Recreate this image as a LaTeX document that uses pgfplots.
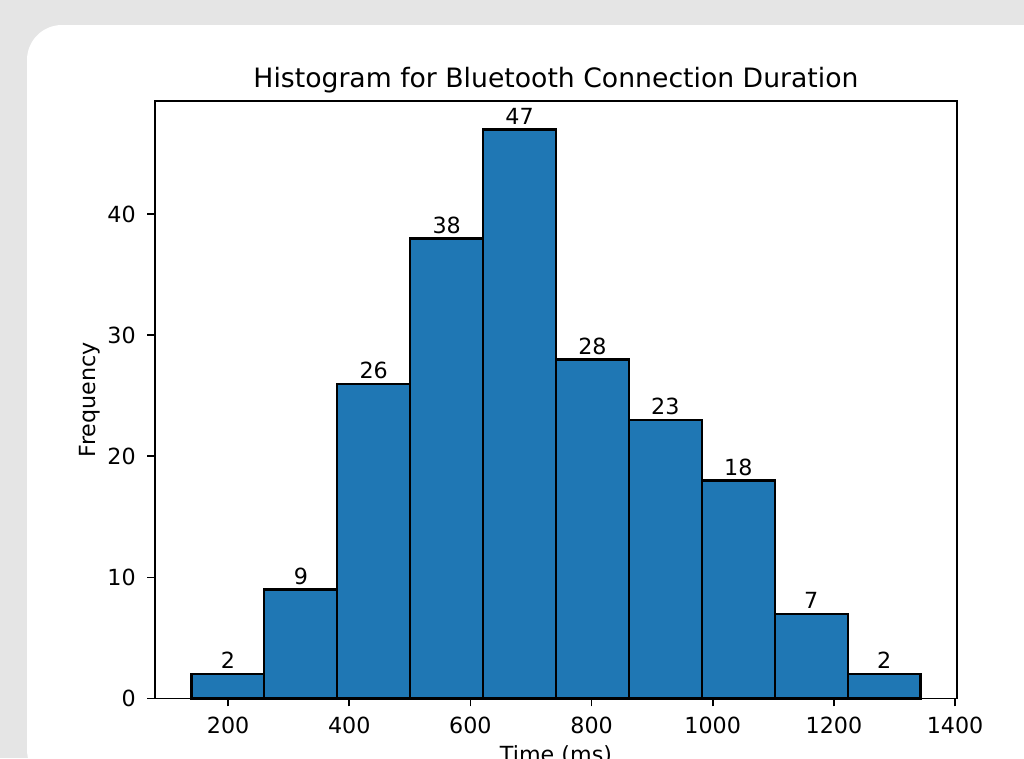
\documentclass[border=0pt]{standalone}
\usepackage{fontspec}
\setmainfont{DejaVu Sans}
\usepackage{pgfplots}
\pgfplotsset{compat=1.18}
\definecolor{pagegray}{HTML}{E5E5E5}
\definecolor{histblue}{HTML}{1F77B4}
\begin{document}
\begin{tikzpicture}
% page background and the white card
\path[use as bounding box] (0,0) rectangle (460.8pt,341.1pt);
\clip (0,0) rectangle (460.8pt,341.1pt);
\fill[pagegray] (0,0) rectangle (460.8pt,341.1pt);
\fill[white, rounded corners=15.75pt] (12.15pt,-12pt) rectangle (480pt,329.85pt);
\begin{axis}[
  at={(69.75pt,26.775pt)}, anchor=south west,
  scale only axis, width=360.9pt, height=268.875pt,
  xmin=79.3, xmax=1403.2, ymin=0, ymax=49.35,
  axis line style={line width=0.8pt, black},
  tick align=outside, xtick pos=bottom, ytick pos=left,
  major tick length=3.5pt,
  tick style={line width=0.8pt, black},
  xtick={200,400,...,1400}, ytick={0,10,20,30,40},
  scaled ticks=false,
  /pgf/number format/1000 sep={},
  /pgf/number format/assume math mode=true,
  tick label style={font=\fontsize{10}{12}\selectfont, inner sep=0pt},
  xticklabel style={anchor=north, yshift=-4.8pt},
  yticklabel style={anchor=east, xshift=-5pt},
  title={Histogram for Bluetooth Connection Duration},
  title style={at={(0.5,1)}, anchor=base, yshift=0pt, inner sep=0pt,
    font=\fontsize{12}{14}\selectfont},
  xlabel={Time (ms)}, ylabel={Frequency},
  label style={font=\fontsize{10}{12}\selectfont, inner sep=0pt},
  xlabel style={at={(axis description cs:0.5,0)}, anchor=north, yshift=-21pt},
  ylabel style={at={(axis description cs:-0.08105,0.5)}, anchor=center},
  clip=false,
]
% histogram bins (left edges) and counts
\addplot[ybar interval, fill=histblue, draw=black, line width=1pt]
  coordinates {
    (139.5,2) (259.85,9) (380.2,26) (500.55,38) (620.9,47)
    (741.25,28) (861.6,23) (981.95,18) (1102.3,7) (1222.65,2)
    (1343.0,2)
  };
% counts written above each bin
\addplot[draw=none, nodes near coords,
  nodes near coords style={anchor=base, yshift=2.4pt, inner sep=0pt,
    font=\fontsize{10}{12}\selectfont}]
  coordinates {
    (199.675,2) (320.025,9) (440.375,26) (560.725,38) (681.075,47)
    (801.425,28) (921.775,23) (1042.125,18) (1162.475,7) (1282.825,2)
  };
\end{axis}
\end{tikzpicture}
\end{document}
